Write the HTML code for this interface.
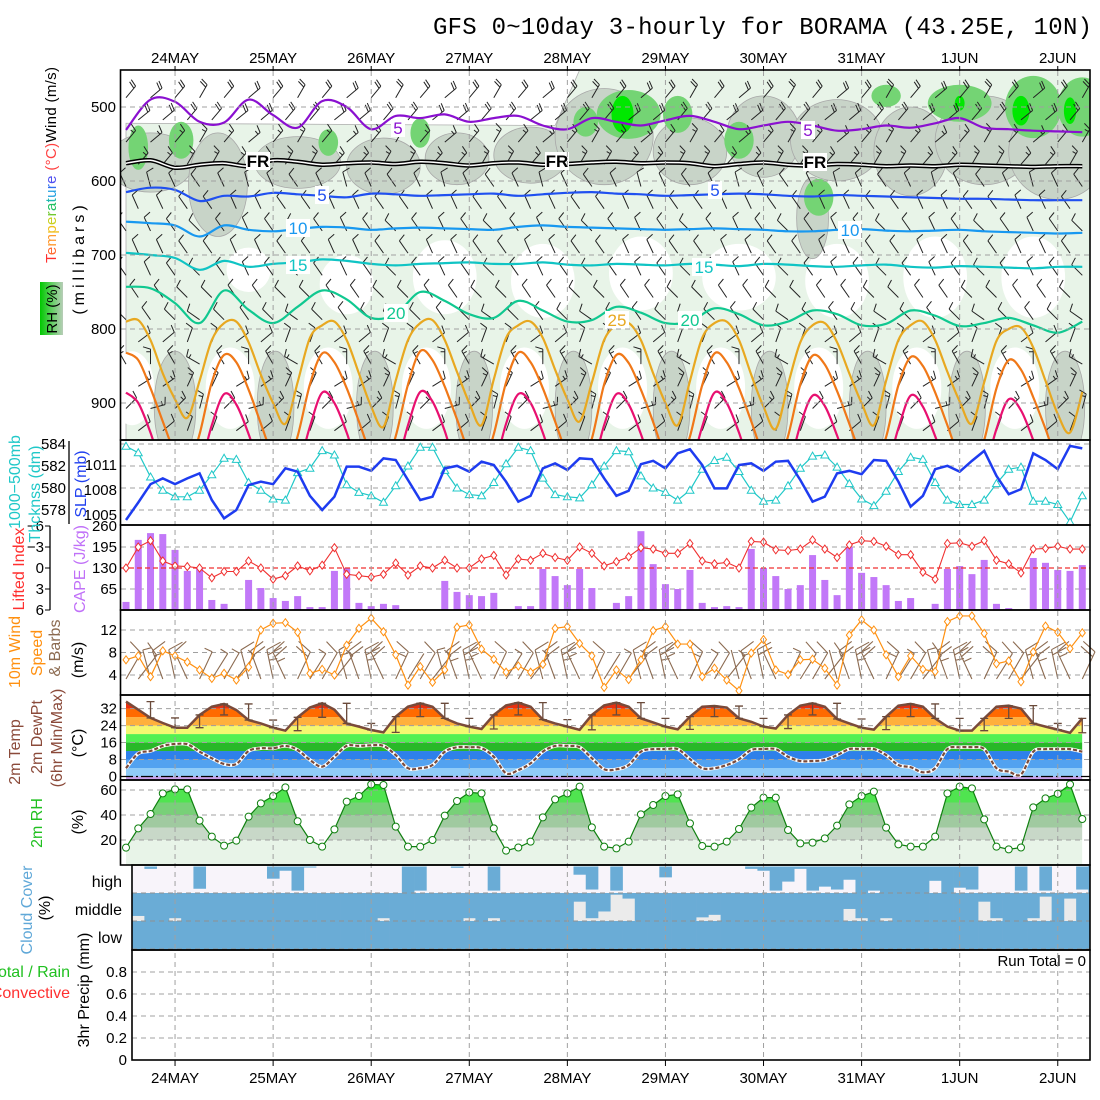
<!DOCTYPE html>
<html><head><meta charset="utf-8"><title>GFS meteogram BORAMA</title>
<style>
html,body{margin:0;padding:0;background:#fff;}
svg{display:block;font-family:"Liberation Sans",sans-serif;}
.tk{font-size:15px;fill:#000;}
</style></head>
<body>
<svg id="chart" xmlns="http://www.w3.org/2000/svg" width="1100" height="1100" viewBox="0 0 1100 1100">
<rect x="0" y="0" width="1100" height="1100" fill="#fff"/>
<text x="1092" y="34" text-anchor="end" font-family="Liberation Mono, monospace" font-size="24" textLength="659">GFS 0~10day 3-hourly for BORAMA (43.25E, 10N)</text>
<defs>
<clipPath id="upclip"><rect x="121" y="71" width="969" height="369"/></clipPath>
<linearGradient id="rhleg" x1="0" x2="1" y1="0" y2="0"><stop offset="0" stop-color="#00c800"/><stop offset="0.5" stop-color="#60d060"/><stop offset="1" stop-color="#b8cdb8"/></linearGradient>
</defs>
<g id="upper"></g>
<g id="lower"></g>
<g id="labels">
<rect x="40" y="282" width="23" height="53" fill="url(#rhleg)"/>
<text transform="rotate(-90 57 309)" x="57" y="309" text-anchor="middle" font-size="15">RH (%)</text>
<text transform="rotate(-90 84 258)" x="84" y="258" text-anchor="middle" font-size="16" letter-spacing="4">(millibars)</text>
<text transform="rotate(-90 56 263)" x="56" y="263" font-size="15" textLength="196"><tspan fill="#ff3030">T</tspan><tspan fill="#ff6a30">e</tspan><tspan fill="#ff9a30">m</tspan><tspan fill="#f0c020">p</tspan><tspan fill="#c8d020">e</tspan><tspan fill="#70c830">r</tspan><tspan fill="#20c060">a</tspan><tspan fill="#20b8b0">t</tspan><tspan fill="#20a0e0">u</tspan><tspan fill="#3070f0">r</tspan><tspan fill="#5050f0">e</tspan><tspan fill="#ff4040"> (°C)</tspan><tspan fill="#000">Wind (m/s)</tspan></text>
<text transform="rotate(-90 20 482)" x="20" y="482" text-anchor="middle" font-size="16" fill="#20c8c8">1000−500mb</text>
<text transform="rotate(-90 40 494)" x="40" y="494" text-anchor="middle" font-size="16" fill="#20c8c8">Thcknss (dm)</text>
<text transform="rotate(-90 86 484)" x="86" y="484" text-anchor="middle" font-size="16" fill="#2040f0">SLP (mb)</text>
<text transform="rotate(-90 24 569)" x="24" y="569" text-anchor="middle" font-size="16" fill="#ff3030">Lifted Index</text>
<text transform="rotate(-90 85 569)" x="85" y="569" text-anchor="middle" font-size="16" fill="#c070f8">CAPE (J/kg)</text>
<text transform="rotate(-90 20 652)" x="20" y="652" text-anchor="middle" font-size="16" fill="#ff9010">10m Wind</text>
<text transform="rotate(-90 42 653)" x="42" y="653" text-anchor="middle" font-size="16" fill="#ff9010">Speed</text>
<text transform="rotate(-90 60 648)" x="60" y="648" text-anchor="middle" font-size="16" fill="#8b6a50">&amp; Barbs</text>
<text transform="rotate(-90 83 660)" x="83" y="660" text-anchor="middle" font-size="16">(m/s)</text>
<text transform="rotate(-90 20 752)" x="20" y="752" text-anchor="middle" font-size="16" fill="#8b4a3a">2m Temp</text>
<text transform="rotate(-90 42 737)" x="42" y="737" text-anchor="middle" font-size="16" fill="#8b4a3a">2m DewPt</text>
<text transform="rotate(-90 62 738)" x="62" y="738" text-anchor="middle" font-size="16" fill="#8b4a3a">(6hr Min/Max)</text>
<text transform="rotate(-90 83 743)" x="83" y="743" text-anchor="middle" font-size="16">(°C)</text>
<text transform="rotate(-90 42 823)" x="42" y="823" text-anchor="middle" font-size="16" fill="#20c020">2m RH</text>
<text transform="rotate(-90 83 822)" x="83" y="822" text-anchor="middle" font-size="16">(%)</text>
<text transform="rotate(-90 32 910)" x="32" y="910" text-anchor="middle" font-size="16" fill="#60a8d8">Cloud Cover</text>
<text transform="rotate(-90 50 908)" x="50" y="908" text-anchor="middle" font-size="16">(%)</text>
<text x="122" y="887" text-anchor="end" font-size="16">high</text>
<text x="122" y="915" text-anchor="end" font-size="16">middle</text>
<text x="122" y="943" text-anchor="end" font-size="16">low</text>
<text x="70" y="977" text-anchor="end" font-size="16" fill="#20c020">Total / Rain</text>
<text x="70" y="998" text-anchor="end" font-size="16" fill="#ff3030">Convective</text>
<text transform="rotate(-90 89 990)" x="89" y="990" text-anchor="middle" font-size="16">3hr Precip (mm)</text>
<text x="1086" y="966" text-anchor="end" font-size="15">Run Total = 0</text>
</g>
</svg>
<script>
// ---------- data ----------
const days = ['24MAY','25MAY','26MAY','27MAY','28MAY','29MAY','30MAY','31MAY','1JUN','2JUN'];
const thickness = [583.8,583.2,581.0,579.8,579.2,579.2,579.8,581.2,582.7,582.6,580.5,579.8,579.0,578.9,
581.4,581.8,583.4,583.0,580.3,579.6,579.3,578.7,580.2,582.0,583.7,583.7,581.6,580.0,579.4,579.3,580.5,582.2,583.7,583.4,580.9,579.4,579.2,579.1,580.3,582.0,583.4,583.3,581.1,580.0,579.6,578.9,579.8,
581.7,582.5,582.8,581.5,579.8,578.8,578.9,580.2,581.8,582.9,583.0,581.9,580.4,579.0,578.4,579.7,581.5,582.8,582.6,580.5,578.9,578.5,578.5,578.9,580.4,581.7,581.9,578.8,578.8,578.5,576.9,579.3];
const slp = [1004.4,1006.5,1008.7,1009.4,1008.7,1009.4,1010.0,1006.8,1004.6,1005.6,1008.6,1009.0,1008.7,1010.6,1010.2,1007.3,1005.6,1007.2,1010.8,1010.8,
1010.3,1011.8,1011.6,1009.2,1006.8,1007.2,1010.6,1010.9,1010.2,1011.4,1011.0,1009.0,1006.6,1007.3,1010.6,1011.2,1010.4,1011.8,1011.7,1009.4,
1007.3,1007.9,1011.1,1011.5,1010.6,1012.4,1012.9,1011.0,1008.2,1008.2,1011.0,1011.2,1010.3,1011.4,1011.5,1009.2,1006.6,1007.2,1010.0,1010.3,
1009.9,1011.6,1011.5,1009.0,1006.0,1007.3,1010.5,1010.9,1010.2,1011.5,1012.7,1009.7,1007.5,1008.1,1012.4,1011.6,1010.5,1013.3,1013.0];
const cape = [25,217,238,235,186,121,130,31,19,0, 93,68,37,28,43,9,9,121,130,22, 12,19,15,0,0,0,90,56,46,43, 53,0,12,12,127,105,77,127,68,0,
22,43,244,142,80,65,124,22,9,12, 9,189,130,105,65,77,170,93,46,195, 115,102,77,28,37,0,19,127,136,111, 155,19,6,0,161,146,124,121,139];
const liftedIndex = [0,-3,-3.9,-1,-0.3,-0.2,0,1.4,0.5,0.5, -1,0,1.6,1.1,-0.3,0.4,-0.4,-2.9,0.9,1.1, 1.3,0.9,-0.7,1,-0.3,0,-1.1,0,0,-1.3,
-1.8,1,-1.3,-1.1,-2.1,-1.5,-1.1,-3,-2.1,-0.3, -0.9,-1.6,-2.9,-2.7,-2.1,-2.1,-3.5,-1,-0.6,-0.8, 0,-3.8,-3.7,-2.6,-2.5,-2.7,-4,-2.7,-1.5,-3.3,
-3.9,-3.8,-3.1,-1.9,-1.9,0.6,1.6,-3.5,-3.6,-3.1, -3.9,-1.1,-0.6,0.7,-2.7,-2.8,-3.1,-2.7,-2.7];
const windSpeed = [6.7,7.4,3.7,8.3,7.4,6.3,4.9,3.4,4.3,3.1, 5.4,12,13.2,13.3,11.6,4.3,5,4,9.3,12.3, 14.1,11.7,7.6,2.2,5.5,2.7,4.9,12.5,12.9,8.6,
6.8,4.5,5.6,4.5,5.9,12.3,12.6,9.6,7.4,1.8, 4.9,3.2,6.7,11.9,12.6,9.5,9.5,3.7,5.2,3.1, 1.2,7.9,10.3,4.9,4.1,6.7,6.8,5.2,2.2,11.1,
13.8,12,7.6,3.7,7.4,5,4.6,13.5,14.5,14.5, 11.4,6,6.5,2.8,8.1,12.7,11.6,8.7,11.5];
const barbTilt = [30,38,-15,-20,-12,-25,25,32];
const temp2m = [35.3,31.5,27.6,25.2,23,23,29,32.9,34.2,31.3, 26.6,25,23,21.6,27.9,32.5,34.5,31.5,25,23.5, 21.9,20.8,28.2,32.9,34.5,32.9,27.4,25,23.5,22.4,
29,33.5,34.8,32.9,26.8,25,23.5,22,29,33.5, 34.8,32.9,27.4,25.5,23.5,22.2,28.2,32.9,33.2,32.5, 27.4,25.8,23.5,22.6,29,33.4,34.5,32.9,27.1,25,
23,22.1,28.2,33.4,34.2,32.9,27.4,23.5,21.6,21.6, 27.4,32.9,33.4,32,25,23.5,22.1,20.6,27.4];
const dewpt2m = [3.9,10.9,12,14.4,15.3,15.2,11.7,8.6,5.9,5.9, 12,13.3,13.3,14.4,12.5,7.8,4.6,9.3,14.4,14.4, 14.7,14.4,10.1,3.9,3.9,5.4,11.7,13.8,13.8,13.4,
9.3,1.5,3,6.2,11.7,14.4,14.4,13.8,8.6,3.4, 3.4,5.4,11.7,12.9,12.9,12.9,8.2,3.9,3.9,5.4, 8.1,12.5,12.9,12.9,9.3,7.3,7.3,7.8,10.1,12.9,
12.9,12.9,10.1,5.4,4.4,2,3.9,12.9,13.8,13.8, 12.9,3.9,2.3,1,11.7,12.9,12.9,12.9,11.7];
const rh2m = [13.9,29.3,40.8,57.3,60.5,60.5,35.5,22.7,15.5,19.5, 38.7,49.3,55.2,62.1,35,20,14.7,28.5,50.7,55.2, 64.5,64,30.7,14.7,14.7,20,39.5,51.2,58.1,57.3,
29.3,11.5,14,18.7,38.1,52.5,57.3,62.7,30.1,14.7, 13.3,18.7,40.5,48,55.2,56.5,33.3,15.2,14.7,18.7, 28.8,45.9,53.9,53.9,28,17.3,17.9,21.3,31.5,48.5,
55.2,58.7,29.9,16.5,14.7,14.7,22.7,57.3,62.7,61.3, 36.5,14.7,12.5,14,46.1,53.3,57,64.5,36.8];
const cloudHigh = [0,0,9,0,0,0,84,0,0,0, 0,0,46,16,91,4,0,0,0,0, 0,0,0,100,91,0,0,5,0,0, 91,0,0,0,0,0,0,31,87,0,
91,0,0,0,41,0,0,0,0,0, 0,9,16,91,57,9,91,76,87,50, 100,91,100,100,100,100,54,100,80,87, 0,0,0,91,0,91,0,0,87];
const cloudMid = [100,82,100,100,90,100,100,100,100,100, 100,100,100,100,100,100,100,100,100,100, 100,90,100,100,100,100,100,100,90,100,
90,100,100,100,100,100,100,31,90,66, 6,20,100,100,100,100,100,87,78,100, 100,100,100,100,100,100,100,100,100,57,
90,100,90,100,100,100,100,100,100,100, 31,90,100,100,90,13,100,20,100];
const cloudLow = [100,100,100,100,100,100,100,100,100,100, 100,100,100,100,100,100,100,100,100,100, 100,100,100,100,100,100,100,100,100,100,
100,100,100,100,100,100,100,100,100,100, 100,100,100,100,100,100,100,100,100,100, 100,100,100,100,100,100,100,100,100,100,
100,100,100,100,100,100,100,100,100,100, 100,100,100,100,100,100,100,100,100];
const precip = [0,0,0,0,0,0,0,0,0,0, 0,0,0,0,0,0,0,0,0,0, 0,0,0,0,0,0,0,0,0,0, 0,0,0,0,0,0,0,0,0,0, 0,0,0,0,0,0,0,0,0,0, 0,0,0,0,0,0,0,0,0,0, 0,0,0,0,0,0,0,0,0,0, 0,0,0,0,0,0,0,0,0];
const isoM5 = [531,490,493,520,521,490,511,528,492,500,530,512,515,510,520,515,512,525,530,515,520,525,518,512,520,530,525,520,525,532,530,525,528,522,515,528,530,532,533,534];
const isoFR = [576,572,582,578,576,580,572,574,578,576,575,577,574,576,579,576,575,578,577,575,574,576,575,576,580,577,575,578,579,577,578,580,579,580,578,579,580,581,580,580];
const iso5 = [615,609,612,627,620,621,616,618,620,622,617,618,620,619,618,617,620,618,616,615,617,618,620,619,618,617,618,620,621,619,620,621,622,623,624,624,625,626,626,626];
const iso10 = [655,657,660,675,660,666,668,665,662,663,666,664,663,664,665,666,662,660,662,663,664,665,666,665,664,665,666,668,668,666,665,667,668,667,666,668,669,670,671,670];
const iso15 = [697,700,704,720,708,716,712,710,706,708,712,714,712,711,710,712,712,710,713,714,712,713,714,712,713,715,712,713,715,716,714,713,716,717,715,716,717,718,716,716];
const iso20 = [743,745,765,792,748,774,792,770,748,760,785,780,750,762,780,785,762,775,790,788,770,778,792,790,772,780,795,790,775,780,795,793,775,782,796,792,785,795,805,790];
const iso25 = [790,788,815,860,895,920,870,815, 792,790,818,862,900,928,872,812, 795,790,815,860,905,932,870,815, 792,788,815,858,900,930,868,812,
795,790,812,855,895,925,872,815, 795,792,815,860,900,930,870,812, 792,790,815,862,905,935,875,818, 795,792,818,860,900,930,870,815,
795,790,815,858,898,928,872,816, 800,798,825,870,915,940,885];
const iso30 = [832,842,880,925,968,990,942,872, 835,845,882,928,972,990,945,875, 833,845,880,925,970,990,945,875, 830,842,878,922,968,990,942,872,
832,845,880,925,970,990,948,875, 835,846,882,926,972,990,945,876, 833,845,880,925,970,990,945,875, 836,848,884,928,972,990,946,876,
838,850,886,930,975,990,950,880, 842,855,892,935,980,990,955];
const iso35 = [886,900,940,990,1010,1010,990,930, 888,902,942,990,1010,1010,990,932, 886,900,940,990,1010,1010,990,930, 885,898,938,990,1010,1010,988,928,
888,900,940,990,1010,1010,990,930, 888,902,942,990,1010,1010,990,932, 886,900,940,990,1010,1010,990,930, 890,904,944,990,1010,1010,992,934,
890,905,945,990,1010,1010,992,935, 895,910,950,995,1010,1010,995];
const barbLevels = [478,508,538,568,598,628,658,688,718,748,778,808,838,868,898,928];
const barbLevelTilt = [40,45,40,35,-25,-30,-35,-30,-35,-40,-45,35,-30,40,45,35];
const barbLevelSpeed = [10,10,8,8,6,6,5,5,5,5,6,6,8,8,8,6];
const barbDiurnal = [0,12,20,10,0,-10,-20,-10];
const rhBlobs = [
[4,905,1.7,75,2],[12.2,905,1.5,75,2],[20.3,905,1.5,75,2],[28.4,905,1.5,75,2],[36.5,905,1.5,75,2],[44.5,905,1.5,75,2],[52.5,905,1.5,75,2],[60.5,905,1.5,75,2],[68.6,905,1.5,75,2],[76.6,905,1.6,75,2],
[2,575,3.5,40,2],[7.5,605,2.4,70,2],[14,575,3.5,35,2],[21,580,3,38,2],[27,570,2.6,35,2],[33,565,3,38,2],[39,540,4,65,2],[46,560,3,45,2],[52,540,3,55,2],[58,545,3.8,55,2],[64,560,3,60,2],[70,545,4,60,2],[76,560,4,65,2],[56,650,1.3,55,2],
[1,555,0.8,30,3],[4.5,545,1,25,3],[16.5,548,0.8,18,3],[24,535,0.8,20,3],[41,510,2.6,33,3],[37.5,520,1,20,3],[45,510,1.2,25,3],[50,545,1.2,25,3],[56.5,622,1.2,25,3],[62,485,1.2,15,3],[68,495,2.6,25,3],[74,500,2.3,42,3],[78,500,2,40,3],
[40.5,510,0.9,25,4],[73,505,0.7,20,4],[77,505,0.5,18,4],[68,495,0.4,10,4]
];
const whiteHoles = [[0.5,880,1.8,50],[8.5,880,2,55],[16.5,880,2,55],[24.5,880,2,55],[32.5,880,2,55],[40.5,880,2,55],[48.5,880,2,55],[56.5,880,2,55],[64.5,880,2,55],[72.5,880,2,55],
[26,730,2.6,50],[34,735,2.6,50],[42,725,2.6,50],[50,730,3,45],[58,735,2.6,50],[66,730,2.6,55],[74,730,2.6,55],[18,740,2.2,40],[10,720,1.8,30]];

// ---------- helpers ----------
const NS = 'http://www.w3.org/2000/svg';
const svg = document.getElementById('chart');
const upper = document.getElementById('upper');
const lower = document.getElementById('lower');
function mk(tag, attrs, parent) {
  const e = document.createElementNS(NS, tag);
  for (const k in attrs) e.setAttribute(k, attrs[k]);
  parent.appendChild(e);
  return e;
}
const X = i => 126 + 12.26 * i;
const Yp = p => 107 + (p - 500) * 0.74;
const Yth = v => 444 + (584 - v) * 11;
const Ysl = v => 490 - (v - 1008) * 8.33;
const Yca = v => 610 - v * 84 / 260;
const Yli = v => 568 + v * 7;
const Yws = v => 675 - (v - 4) * 5.625;
const Yt = v => 776.5 - v * 2.122;
const Yrh = v => 865 - v * 1.25;
const Ypr = v => 1060 - v * 110;
function smooth(pts) {
  let d = 'M' + pts[0][0].toFixed(1) + ',' + pts[0][1].toFixed(1);
  for (let k = 0; k < pts.length - 1; k++) {
    const p0 = pts[k - 1] || pts[k], p1 = pts[k], p2 = pts[k + 1], p3 = pts[k + 2] || p2;
    const c1x = p1[0] + (p2[0] - p0[0]) / 6, c1y = p1[1] + (p2[1] - p0[1]) / 6;
    const c2x = p2[0] - (p3[0] - p1[0]) / 6, c2y = p2[1] - (p3[1] - p1[1]) / 6;
    d += 'C' + c1x.toFixed(1) + ',' + c1y.toFixed(1) + ' ' + c2x.toFixed(1) + ',' + c2y.toFixed(1) + ' ' + p2[0].toFixed(1) + ',' + p2[1].toFixed(1);
  }
  return d;
}
function poly(arr, yf, step) {
  return arr.map((v, k) => [X(k * step), yf(v)]);
}
function barb(g, x, y, tiltDeg, spd, len, color, w) {
  const a = tiltDeg * Math.PI / 180;
  const dx = Math.sin(a), dy = -Math.cos(a);
  const tx = x + dx * len, ty = y + dy * len;
  let d = 'M' + x.toFixed(1) + ',' + y.toFixed(1) + 'L' + tx.toFixed(1) + ',' + ty.toFixed(1);
  const px = -dy, py = dx;
  const side = tiltDeg >= 0 ? -1 : 1;
  let n = Math.floor(spd / 5), half = (spd % 5) >= 2.5;
  let pos = 0;
  for (let k = 0; k < n; k++) {
    const bx = tx - dx * pos * len * 0.18, by = ty - dy * pos * len * 0.18;
    d += 'M' + bx.toFixed(1) + ',' + by.toFixed(1) + 'l' + (side * px * len * 0.5 + dx * len * 0.15).toFixed(1) + ',' + (side * py * len * 0.5 + dy * len * 0.15).toFixed(1);
    pos++;
  }
  if (half) {
    const bx = tx - dx * pos * len * 0.18, by = ty - dy * pos * len * 0.18;
    d += 'M' + bx.toFixed(1) + ',' + by.toFixed(1) + 'l' + (side * px * len * 0.28).toFixed(1) + ',' + (side * py * len * 0.28).toFixed(1);
  }
  const e = mk('path', {d: d, stroke: color, 'stroke-width': w, fill: 'none'}, g);
  return e;
}

// ---------- upper panel ----------
const ug = mk('g', {'clip-path': 'url(#upclip)'}, upper);


const baseRh = mk('path', {d: 'M126,' + Yp(522) + ' L' + X(35) + ',' + Yp(525) + ' L' + X(37) + ',' + Yp(450) + ' L1092,' + Yp(450) + ' L1092,441 L126,441 Z', fill: '#e8f4e8', stroke: '#b0b0b0', 'stroke-width': 0.8}, ug);


whiteHoles.forEach(h => {
  const e = mk('ellipse', {cx: X(h[0]), cy: Yp(h[1]), rx: h[2] * 12.26, ry: h[3] * 0.74, fill: '#fff'}, ug);
  
  
});
const rhCols = {2: '#c8d4c8', 3: '#74d474', 4: '#00e800'};
rhBlobs.forEach(b => {
  const e = mk('ellipse', {cx: X(b[0]), cy: Yp(b[1]), rx: b[2] * 12.26, ry: b[3] * 0.74, fill: rhCols[b[4]], stroke: b[4] === 2 ? '#a8a8a8' : 'none', 'stroke-width': 0.8}, ug);
  
  
});
[500, 600, 700, 800, 900].forEach(p => {
  const e = mk('line', {x1: 121, x2: 1090, y1: Yp(p), y2: Yp(p), stroke: '#a0a0a0', 'stroke-dasharray': '5 4', 'stroke-width': 1}, upper);
  
  
});
barbLevels.forEach((p, li) => {
  for (let i = (li % 2); i < 79; i += 2) {
    const t = barbLevelTilt[li] + barbDiurnal[i % 8] * (p > 780 ? 1.5 : 0.5);
    const e = barb(ug, X(i), Yp(p) + 7, t, barbLevelSpeed[li], 15, '#222', 1);
    
    
  }
});
const isoDefs = [
  [isoM5, 2, '#8a10d0', 2.2, 'isotherm-minus5'],
  [iso5, 2, '#2050f0', 2.2, 'isotherm-5'],
  [iso10, 2, '#1898f0', 2.2, 'isotherm-10'],
  [iso15, 2, '#10c4c4', 2.2, 'isotherm-15'],
  [iso20, 2, '#10c890', 2.2, 'isotherm-20'],
  [iso25, 1, '#e8a820', 2.2, 'isotherm-25'],
  [iso30, 1, '#f07818', 2.2, 'isotherm-30'],
  [iso35, 1, '#e81070', 2.2, 'isotherm-35']
];
isoDefs.forEach(dfn => {
  const e = mk('path', {d: smooth(poly(dfn[0], Yp, dfn[1])), stroke: dfn[2], 'stroke-width': dfn[3], fill: 'none'}, ug);
  
  
});
const frD = smooth(poly(isoFR, Yp, 2));
const fr1 = mk('path', {d: frD, stroke: '#000', 'stroke-width': 4.5, fill: 'none'}, ug);


const fr2 = mk('path', {d: frD, stroke: '#fff', 'stroke-width': 1.5, fill: 'none'}, ug);


const isoLabels = [['FR', 258, 167, '#000'], ['FR', 557, 167, '#000'], ['FR', 815, 168, '#000'], ['5', 398, 134, '#8a10d0'], ['5', 808, 136, '#8a10d0'],
  ['5', 322, 201, '#2050f0'], ['5', 715, 196, '#2050f0'], ['10', 298, 234, '#1898f0'], ['10', 850, 236, '#1898f0'], ['15', 298, 271, '#10c4c4'], ['15', 704, 273, '#10c4c4'],
  ['20', 396, 319, '#10c890'], ['20', 690, 326, '#10c890'], ['25', 617, 326, '#e8a820']];
isoLabels.forEach(l => {
  const w = l[0].length * 10 + 4;
  const r = mk('rect', {x: l[1] - w / 2, y: l[2] - 15, width: w, height: 18, fill: '#fff'}, ug);
  
  
  const t = mk('text', {x: l[1], y: l[2], 'text-anchor': 'middle', 'font-size': 17, fill: l[3], 'font-weight': l[0] === 'FR' ? 'bold' : 'normal'}, ug);
  t.textContent = l[0];
  
  
});
[500, 600, 700, 800, 900].forEach(p => {
  const t = mk('text', {x: 116, y: Yp(p) + 5, 'text-anchor': 'end', class: 'tk'}, upper);
  t.textContent = p;
  
  
});

// ---------- thickness / SLP ----------
[584, 582, 580, 578].forEach(v => {
  const e = mk('line', {x1: 121, x2: 1090, y1: Yth(v), y2: Yth(v), stroke: '#a0a0a0', 'stroke-dasharray': '5 4'}, lower);
  
  
  const t = mk('text', {x: 66, y: Yth(v) + 5, 'text-anchor': 'end', class: 'tk'}, lower);
  t.textContent = v;
  
  
});
const thAxis = mk('line', {x1: 69, x2: 69, y1: 441, y2: 524, stroke: '#000', 'stroke-width': 1.3}, lower);


[1011, 1008, 1005].forEach(v => {
  const t = mk('text', {x: 117, y: Ysl(v) + 5, 'text-anchor': 'end', class: 'tk'}, lower);
  t.textContent = v;
  
  
});
const thLine = mk('path', {d: 'M' + poly(thickness, Yth, 1).map(p => p.join(',')).join('L'), stroke: '#20c8c8', 'stroke-width': 1.2, fill: 'none'}, lower);


thickness.forEach((v, i) => {
  const x = X(i), y = Yth(v);
  const e = mk('path', {d: 'M' + x + ',' + (y - 4) + 'L' + (x + 4) + ',' + (y + 3) + 'L' + (x - 4) + ',' + (y + 3) + 'Z', fill: '#fff', stroke: '#20c8c8', 'stroke-width': 1}, lower);
  
  
});
const slpLine = mk('path', {d: 'M' + poly(slp, Ysl, 1).map(p => p.join(',')).join('L'), stroke: '#1e3cf0', 'stroke-width': 2.5, fill: 'none'}, lower);



// ---------- CAPE / LI ----------
[195, 65].forEach(v => {
  const e = mk('line', {x1: 121, x2: 1090, y1: Yca(v), y2: Yca(v), stroke: '#a0a0a0', 'stroke-dasharray': '5 4'}, lower);
  
  
});
[260, 195, 130, 65].forEach(v => {
  const t = mk('text', {x: 117, y: Yca(v) + 5, 'text-anchor': 'end', class: 'tk'}, lower);
  t.textContent = v;
  
  
});
[-6, -3, 0, 3, 6].forEach(v => {
  const t = mk('text', {x: 44, y: Yli(v) + 5, 'text-anchor': 'end', class: 'tk'}, lower);
  t.textContent = v < 0 ? '−' + (-v) : v;
  
  
  const k = mk('line', {x1: 45, x2: 50, y1: Yli(v), y2: Yli(v), stroke: '#000'}, lower);
  
  
});
const liAxis = mk('line', {x1: 50, x2: 50, y1: 526, y2: 610, stroke: '#000', 'stroke-width': 1.3}, lower);


cape.forEach((v, i) => {
  if (v <= 0) return;
  const e = mk('rect', {x: X(i) - 3.5, y: Yca(v), width: 7, height: 610 - Yca(v), fill: '#c278f8'}, lower);
  
  
});
const liZero = mk('line', {x1: 121, x2: 1090, y1: Yli(0), y2: Yli(0), stroke: '#f03030', 'stroke-dasharray': '5 3', 'stroke-width': 1.3}, lower);


const liLine = mk('path', {d: 'M' + poly(liftedIndex, Yli, 1).map(p => p.join(',')).join('L'), stroke: '#f03030', 'stroke-width': 1.1, fill: 'none'}, lower);


liftedIndex.forEach((v, i) => {
  const x = X(i), y = Yli(v);
  const e = mk('path', {d: 'M' + x + ',' + (y - 4) + 'L' + (x + 3) + ',' + y + 'L' + x + ',' + (y + 4) + 'L' + (x - 3) + ',' + y + 'Z', fill: '#fff', stroke: '#f03030', 'stroke-width': 1}, lower);
  
  
});

// ---------- wind ----------
[12, 8, 4].forEach(v => {
  const e = mk('line', {x1: 121, x2: 1090, y1: Yws(v), y2: Yws(v), stroke: '#a0a0a0', 'stroke-dasharray': '5 4'}, lower);
  
  
  const t = mk('text', {x: 117, y: Yws(v) + 5, 'text-anchor': 'end', class: 'tk'}, lower);
  t.textContent = v;
  
  
});
windSpeed.forEach((v, i) => {
  const e = barb(lower, X(i), 679, barbTilt[i % 8], v, 30, '#8b6a50', 1.1);
  
  
});
const wsLine = mk('path', {d: 'M' + poly(windSpeed, Yws, 1).map(p => p.join(',')).join('L'), stroke: '#ff9010', 'stroke-width': 1.2, fill: 'none'}, lower);


windSpeed.forEach((v, i) => {
  const x = X(i), y = Yws(v);
  const e = mk('path', {d: 'M' + x + ',' + (y - 4) + 'L' + (x + 3) + ',' + y + 'L' + x + ',' + (y + 4) + 'L' + (x - 3) + ',' + y + 'Z', fill: '#fff', stroke: '#ff9010', 'stroke-width': 1}, lower);
  
  
});

// ---------- temperature ----------
const tClip = mk('clipPath', {id: 'tclip'}, svg);
const tPts = poly(temp2m, Yt, 1);
mk('path', {d: 'M' + X(0) + ',780 L' + tPts.map(p => p.join(',')).join('L') + ' L' + X(78) + ',780 Z'}, tClip);
const tBands = mk('g', {'clip-path': 'url(#tclip)'}, lower);


const bandCols = [[-4, 0, '#c8a0e8'], [0, 4, '#90ccf8'], [4, 8, '#52a2f0'], [8, 12, '#2e80ea'], [12, 16, '#28b828'], [16, 20, '#52f052'], [20, 24, '#f4f870'], [24, 28, '#ffb03c'], [28, 32, '#ff6a00'], [32, 36, '#e83010'], [36, 45, '#c00000']];
bandCols.forEach(b => {
  const y1 = Math.min(Yt(b[0]), 780);
  const e = mk('rect', {x: X(0), y: Yt(b[1]), width: X(78) - X(0), height: y1 - Yt(b[1]), fill: b[2]}, tBands);
  
  
});
[32, 24, 16, 8, 0].forEach(v => {
  if (v > 0) {
    const e = mk('line', {x1: 121, x2: 1090, y1: Yt(v), y2: Yt(v), stroke: '#a0a0a0', 'stroke-dasharray': '5 4'}, lower);
    
    
  }
  const t = mk('text', {x: 117, y: Yt(v) + 5, 'text-anchor': 'end', class: 'tk'}, lower);
  t.textContent = v;
  
  
});
const zeroLine = mk('line', {x1: 121, x2: 1090, y1: Yt(0), y2: Yt(0), stroke: '#000', 'stroke-dasharray': '12 3 2 3', 'stroke-width': 1.3}, lower);


const tLine = mk('path', {d: 'M' + tPts.map(p => p.join(',')).join('L'), stroke: '#7a4a3a', 'stroke-width': 2.5, fill: 'none'}, lower);


const tdD = smooth(poly(dewpt2m, Yt, 1));
const tdHalo = mk('path', {d: tdD, stroke: '#fff', 'stroke-width': 3.5, fill: 'none'}, lower);


const tdLine = mk('path', {d: tdD, stroke: '#7a4a3a', 'stroke-width': 2.2, 'stroke-dasharray': '4 2', fill: 'none'}, lower);


for (let i = 2; i < 79; i += 2) {
  const w = temp2m.slice(i - 2, i + 1);
  const hi = Math.max.apply(null, w), lo = Math.min.apply(null, w);
  const x = X(i);
  const e = mk('path', {d: 'M' + (x - 4) + ',' + Yt(hi) + 'h8M' + x + ',' + Yt(hi) + 'V' + Yt(lo) + 'M' + (x - 4) + ',' + Yt(lo) + 'h8', stroke: '#6a4a3a', 'stroke-width': 1.3, fill: 'none'}, lower);
  
  
}

// ---------- RH ----------
const rClip = mk('clipPath', {id: 'rclip'}, svg);
const rPts = poly(rh2m, Yrh, 1);
mk('path', {d: 'M' + X(0) + ',865 L' + rPts.map(p => p.join(',')).join('L') + ' L' + X(78) + ',865 Z'}, rClip);
const rBands = mk('g', {'clip-path': 'url(#rclip)'}, lower);


[[0, 20, '#e8f4e8'], [20, 30, '#c8d8c8'], [30, 40, '#a0caa0'], [40, 50, '#78d078'], [50, 60, '#50e450'], [60, 100, '#20e820']].forEach(b => {
  const e = mk('rect', {x: X(0), y: Yrh(b[1]), width: X(78) - X(0), height: Yrh(b[0]) - Yrh(b[1]), fill: b[2]}, rBands);
  
  
});
[60, 40, 20].forEach(v => {
  const e = mk('line', {x1: 121, x2: 1090, y1: Yrh(v), y2: Yrh(v), stroke: '#a0a0a0', 'stroke-dasharray': '5 4'}, lower);
  
  
  const t = mk('text', {x: 117, y: Yrh(v) + 5, 'text-anchor': 'end', class: 'tk'}, lower);
  t.textContent = v;
  
  
});
const rLine = mk('path', {d: 'M' + rPts.map(p => p.join(',')).join('L'), stroke: '#108010', 'stroke-width': 1.2, fill: 'none'}, lower);


rh2m.forEach((v, i) => {
  const e = mk('circle', {cx: X(i), cy: Yrh(v), r: 3.5, fill: '#fff', stroke: '#108010', 'stroke-width': 1}, lower);
  
  
});

// ---------- cloud ----------
const cClip = mk('clipPath', {id: 'cclip'}, svg);
mk('rect', {x: 132, y: 866, width: 958, height: 84}, cClip);
const cg = mk('g', {'clip-path': 'url(#cclip)'}, lower);


const rows = [[cloudHigh, 866.5, 26.5, '#f8f4fa', 'cloud-high-bar'], [cloudMid, 893, 28, '#ebebeb', 'cloud-middle-bar'], [cloudLow, 921, 29, '#ebebeb', 'cloud-low-bar']];
rows.forEach(r => {
  const bg = mk('rect', {x: 132, y: r[1], width: 958, height: r[2], fill: r[3]}, cg);
  
  
  r[0].forEach((v, i) => {
    if (v <= 0) return;
    const e = mk('rect', {x: X(i) - 6.13, y: r[1], width: 12.6, height: r[2] * v / 100, fill: '#6aacd6'}, cg);
    
    
  });
});
const lastCol = mk('rect', {x: X(78) + 6, y: 866, width: 10, height: 84, fill: '#6aacd6'}, cg);


[893, 921, 949].forEach(y => {
  const e = mk('line', {x1: 132, x2: 1090, y1: y, y2: y, stroke: '#909090', 'stroke-dasharray': '5 4', 'stroke-width': 1}, lower);
  
  
});

// ---------- precip ----------
[0.8, 0.6, 0.4, 0.2, 0].forEach(v => {
  if (v > 0) {
    const e = mk('line', {x1: 132, x2: 1090, y1: Ypr(v), y2: Ypr(v), stroke: '#a0a0a0', 'stroke-dasharray': '5 4'}, lower);
    
    
  }
  const t = mk('text', {x: 127, y: Ypr(v) + 5, 'text-anchor': 'end', class: 'tk'}, lower);
  t.textContent = v;
  
  
});
precip.forEach((v, i) => {
  if (v <= 0) return;
  const e = mk('rect', {x: X(i) - 4, y: Ypr(v), width: 8, height: 1060 - Ypr(v), fill: '#20c020'}, lower);
  
  
});

// ---------- day gridlines and labels ----------
days.forEach((d, k) => {
  const x = X(4 + 8 * k);
  const e = mk('line', {x1: x, x2: x, y1: 71, y2: 1060, stroke: '#a0a0a0', 'stroke-dasharray': '5 4', 'stroke-width': 1}, svg);
  
  
  const t1 = mk('text', {x: x, y: 63, 'text-anchor': 'middle', 'font-size': 15}, svg);
  t1.textContent = d;
  
  
  const t2 = mk('text', {x: x, y: 1083, 'text-anchor': 'middle', 'font-size': 15}, svg);
  t2.textContent = d;
  
  
  const k1 = mk('line', {x1: x, x2: x, y1: 66, y2: 71, stroke: '#000'}, svg);
  
  
  const k2 = mk('line', {x1: x, x2: x, y1: 1060, y2: 1066, stroke: '#000'}, svg);
  
  
});

// ---------- frames ----------
const frames = [[120.5, 70, 'upper-frame', 370], [120.5, 440, 'thickness-frame', 85], [120.5, 525, 'cape-frame', 85], [120.5, 610, 'wind-frame', 85], [120.5, 695, 'temp-frame', 85], [120.5, 780, 'rh-frame', 85], [132, 865, 'cloud-frame', 85], [132, 950, 'precip-frame', 110]];
frames.forEach(f => {
  const e = mk('rect', {x: f[0], y: f[1], width: 1090 - f[0], height: f[3], fill: 'none', stroke: '#000', 'stroke-width': 1.6}, svg);
  
  
});
</script>
</body></html>
